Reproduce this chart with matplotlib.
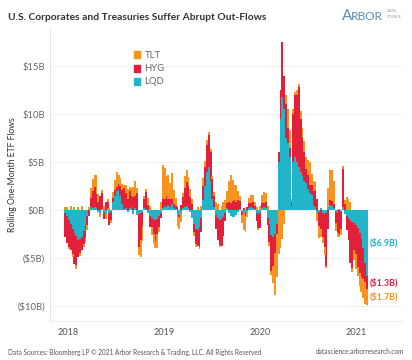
import numpy as np
import pandas as pd
import matplotlib
matplotlib.use("Agg")
import matplotlib.pyplot as plt
from matplotlib.patches import Rectangle

# weekly samples of the rolling one-month flows, in $B
WEEKS = pd.date_range("2017-12-22", periods=165, freq="7D")

LQD = [-0.3, -0.6, -1.0, -1.5, -2.0, -2.4, -2.7, -3.1, -3.0, -2.8,
       -2.2, -1.6, -0.6, 0.0, 0.3, 0.2, 0.3, 0.2, -0.2, -0.3,
       0.1, -0.3, -0.4, 0.2, -0.3, -0.2, 0.8, 1.5, 2.0, 2.1,
       1.5, 0.6, 0.1, 0.2, -0.2, 0.2, 0.3, -0.4, 0.2, -0.5,
       -0.4, -0.3, -0.2, 0.2, 0.1, -0.3, -0.6, -0.8, -1.0, -1.0,
       -0.9, -0.6, -0.3, 0.2, 0.4, 0.3, 0.5, 0.3, 0.6, 0.2,
       0.1, -0.5, -0.5, -0.3, 0.2, 0.3, 0.4, 0.2, -0.2, -0.8,
       -1.5, -2.0, -2.1, -1.8, -0.8, 1.0, 2.5, 4.0, 4.5, 3.0,
       1.2, 0.3, -0.5, -0.8, -1.0, -0.9, -0.7, -0.3, 0.2, -0.3,
       -0.6, -0.7, -0.7, -0.5, -0.2, 0.1, -0.2, -0.3, -0.2, -0.1,
       0.2, 0.3, 0.2, 0.1, -0.3, -0.4, -0.3, 0.2, 0.3, 0.2,
       -0.8, -1.5, -2.6, -2.8, -2.5, -1.5, 5.0, 9.5, 11.8, 10.5,
       7.5, 7.0, 5.5, 0.3, 5.0, 5.5, 5.0, 4.5, 4.0, 3.5,
       3.0, 2.8, 2.2, 1.8, 1.6, 0.5, 0.3, -0.3, -0.2, 0.2,
       -0.3, -0.4, -0.3, 0.3, 0.5, 0.4, 0.2, -0.2, -0.3, 0.1,
       -0.2, 0.3, -0.4, -0.6, -0.8, -1.0, -1.2, -1.4, -1.6, -1.9,
       -2.4, -3.0, -4.0, -5.5, -6.9]

HYG = [-2.5, -2.8, -2.8, -2.7, -2.6, -3.2, -3.0, -1.8, -1.5, -1.4,
       -1.3, -1.3, -1.0, -0.6, 1.0, 1.8, 2.1, 1.5, 0.8, 1.5,
       1.7, -0.6, 0.8, 0.6, -1.3, -0.8, 0.5, 0.6, 0.4, 0.6,
       1.0, 1.5, 2.2, 1.6, 1.2, 1.8, 1.2, 1.4, 1.3, 1.8,
       -3.5, -2.8, -1.5, 1.0, 1.8, 0.5, -1.2, -1.0, -1.5, -2.2,
       -1.6, -1.2, -0.5, 1.0, 0.8, 1.2, 0.6, 0.9, 0.5, 0.4,
       0.3, 0.3, -0.2, 0.5, 1.2, 2.0, 2.5, 2.3, 1.4, 0.6,
       -0.8, -1.5, -1.6, -2.1, -1.5, 1.5, 2.0, 2.8, 3.3, 3.0,
       2.0, 1.2, -1.5, -2.3, -2.6, -2.8, -2.0, -0.8, 0.5, 0.8,
       0.7, 0.9, 1.0, 0.8, 1.0, 0.8, -0.3, 0.2, -0.4, 0.3,
       0.5, 0.4, 0.6, 0.3, -0.8, -1.5, -1.6, 0.5, 0.4, 0.6,
       -0.8, -1.8, -3.8, -3.0, -2.0, -1.0, 1.0, 3.0, 5.7, 3.5,
       3.5, 1.5, 1.0, 0.5, 5.0, 6.5, 7.0, 8.3, 5.5, 4.0,
       3.0, 1.5, 1.5, 0.8, 1.0, 1.5, 1.8, 1.2, -1.5, -2.0,
       -2.5, -3.5, -5.5, -2.0, 0.5, 0.5, 0.4, -1.2, -2.0, -2.5,
       -1.8, 4.0, 0.6, -1.5, -2.3, -4.5, -4.8, -2.8, -3.0, -4.0,
       -4.2, -4.0, -3.2, -2.0, -1.3]

TLT = [0.3, 0.3, -0.3, 0.4, -0.3, 0.3, -0.4, 0.3, -0.3, 0.4,
       -0.3, -0.4, -0.5, 0.3, 1.0, 1.2, 1.3, 1.9, 0.9, -0.4,
       0.3, 0.4, -0.5, 0.4, 0.2, -0.3, 0.6, 1.0, 1.6, 1.0,
       0.8, 0.6, 0.3, 0.8, 1.0, 0.4, 0.8, 1.0, 1.5, 0.5,
       -0.8, -1.8, -1.5, 0.3, 0.3, 0.8, 0.4, -0.8, -0.9, -0.8,
       -1.5, -0.5, 0.8, 3.5, 3.2, 2.0, 2.6, 1.6, 2.8, 1.5,
       0.9, -1.2, -1.3, -0.9, 0.4, 1.2, 1.3, 0.9, 0.8, 0.5,
       -0.4, -0.3, 0.3, -0.2, 0.4, 0.8, 0.6, 0.5, 0.3, 0.4,
       0.3, 0.4, 0.8, 0.6, -0.3, 0.4, 0.8, 1.0, 1.3, 2.2,
       3.0, 2.2, 1.6, 1.8, 1.0, 0.6, -0.8, -1.8, -1.7, -0.6,
       0.6, 0.9, 0.8, 0.4, 0.3, -0.2, 0.4, 0.9, 1.2, 1.0,
       0.4, -0.4, -0.4, -1.8, -4.4, -4.5, -4.6, -4.0, -3.0, -1.5,
       1.0, 2.0, 1.8, 0.3, 0.5, 0.3, 0.5, 0.3, 0.8, 1.0,
       1.2, 1.2, 1.5, 2.4, 1.2, 1.0, 0.8, -0.8, -1.2, -0.8,
       -0.6, -0.8, -0.2, 2.0, 3.2, 3.3, 2.4, -0.8, -0.5, -0.3,
       -0.6, 0.3, 0.4, 1.4, 1.2, 0.8, -0.5, -1.0, -1.5, -1.0,
       -1.3, -1.5, -2.0, -2.3, -1.7]

LEGEND = ["TLT", "HYG", "LQD"]
STACK_ORDER = ["LQD", "HYG", "TLT"]  # from zero outward
COLORS = {"TLT": "#f7931e", "HYG": "#e3203a", "LQD": "#22b5c9"}
Y_TICKS = [15, 10, 5, 0, -5, -10]
Y_LABELS = ["\\$15B", "\\$10B", "\\$5B", "\\$0B", "(\\$5B)", "(\\$10B)"]
YEARS = [2018, 2019, 2020, 2021]

plt.rcParams["font.family"] = ["Lato", "DejaVu Sans"]


def main():
    data = {"LQD": np.array(LQD), "HYG": np.array(HYG), "TLT": np.array(TLT)}

    fig = plt.figure(figsize=(4.12, 3.6), dpi=100)
    ax = fig.add_axes([0.1214, 0.1083, 0.854, 0.8083])

    # stacked bars, positives up and negatives down
    pos = np.zeros(len(WEEKS))
    neg = np.zeros(len(WEEKS))
    for name in STACK_ORDER:
        v = data[name]
        bottom = np.where(v >= 0, pos, neg)
        ax.bar(WEEKS, v, bottom=bottom, width=7.3, color=COLORS[name],
               linewidth=0, zorder=2)
        pos += np.where(v >= 0, v, 0)
        neg += np.where(v < 0, v, 0)

    ax.set_ylim(-11.56, 18.75)
    ax.set_xlim(pd.Timestamp("2017-10-25"), pd.Timestamp("2021-06-25"))
    ax.set_yticks(Y_TICKS)
    ax.set_yticklabels(Y_LABELS)
    ax.set_xticks([pd.Timestamp(f"{y}-01-01") for y in YEARS])
    ax.set_xticklabels([str(y) for y in YEARS])
    ax.tick_params(axis="y", length=0, labelsize=6.8, colors="#666666", pad=3.5)
    ax.tick_params(axis="x", length=0, labelsize=6.6, colors="#555555", pad=5)

    ax.grid(axis="y", color="#f0f0f0", linewidth=0.7)
    ax.set_axisbelow(True)
    for s in ["top", "right"]:
        ax.spines[s].set_visible(False)
    ax.spines["left"].set_color("#e4e4e4")
    ax.spines["bottom"].set_color("#eeeeee")
    ax.spines["left"].set_linewidth(0.8)
    ax.spines["bottom"].set_linewidth(0.8)

    fig.text(13 / 412, 1 - 175 / 360, "Rolling One-Month ETF Flows", rotation=90,
             ha="center", va="center", fontsize=6.2, color="#333333")

    # end-of-series labels, centred on each stacked segment
    last = WEEKS[-1] + pd.Timedelta(days=9)
    base = 0.0
    for name in STACK_ORDER:
        v = data[name][-1]
        ax.text(last, base + v / 2, f"(\\${abs(v):.1f}B)", color=COLORS[name],
                fontsize=6.4, fontweight="bold", ha="left", va="center")
        base += v

    # legend
    for i, name in enumerate(LEGEND):
        yc = 1 - (55 + 13.5 * i) / 360
        fig.add_artist(Rectangle((133.5 / 412, yc - 3 / 360), 6.5 / 412, 6.5 / 360,
                                 transform=fig.transFigure, color=COLORS[name]))
        fig.text(144.5 / 412, yc, name, fontsize=6.8, color="#666666", va="center")

    # title, logo, footer
    fig.text(8 / 412, 1 - 17 / 360, "U.S. Corporates and Treasuries Suffer Abrupt Out-Flows",
             fontsize=7.4, fontweight="bold", color="#333333", va="center")
    fig.text(342 / 412, 1 - 20 / 360, "A", fontsize=11, color="#5a8fba", va="baseline")
    fig.text(351 / 412, 1 - 20 / 360, "RBOR", fontsize=8.6, color="#5a8fba", va="baseline")
    fig.text(387 / 412, 1 - 11.5 / 360, "DATA", fontsize=2.6, color="#999999", va="center")
    fig.text(387 / 412, 1 - 16.5 / 360, "SCIENCE", fontsize=2.6, color="#999999", va="center")

    fig.text(8 / 412, 1 - 352 / 360,
             "Data Sources: Bloomberg LP \u00a9 2021 Arbor Research & Trading, LLC. All Rights Reserved",
             fontsize=4.7, color="#555555", va="center")
    fig.text(404 / 412, 1 - 352 / 360, "datascience.arborresearch.com",
             fontsize=4.7, color="#555555", va="center", ha="right")

    fig.savefig("out.png", dpi=100)


if __name__ == "__main__":
    main()
